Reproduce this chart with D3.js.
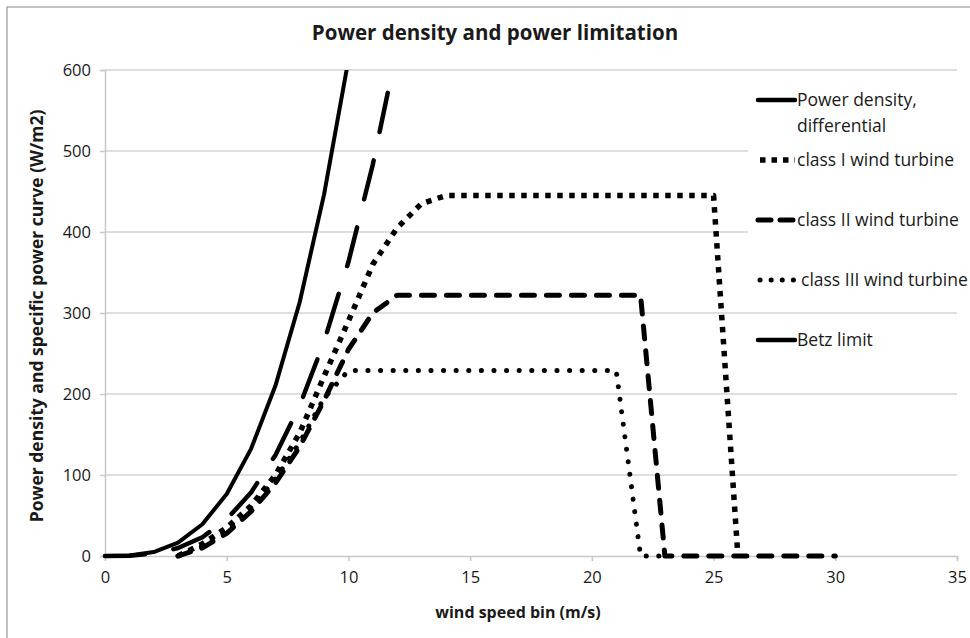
<!DOCTYPE html>
<html><head><meta charset="utf-8">
<script src="https://cdn.jsdelivr.net/npm/d3@7/dist/d3.min.js"></script>
<style>
html,body{margin:0;padding:0;background:#fff;}
text{font-family:"Open Sans","Noto Sans",sans-serif;fill:#1a1a1a;}
</style></head>
<body><svg id="c" width="970" height="638"></svg>
<script>
const windSpeed = [0,1,2,3,4,5,6,7,8,9,10,11,12,13,14,15,16,17,18,19,20,21,22,23,24,25,26,27,28,29,30];
const powerDensity = [0,0.6,4.9,16.5,39.2,76.6,132.3,210.1,313.6,446.5,612.5];
const betzLimit = [0,0.4,2.9,9.8,23.2,45.4,78.4,124.5,185.8,264.6,363.0,483.1,627.2];
const class1X = [3,4,5,6,7,8,9,10,11,12,13,14,15,16,17,18,19,20,21,22,23,24,25,26];
const class1 = [0,15,35,62,100,152,222,290,360,405,435,445,445,445,445,445,445,445,445,445,445,445,445,0];
const class2X = [3,4,5,6,7,8,9,10,11,12,13,14,15,16,17,18,19,20,21,22,23,24,25,26,27,28,29,30];
const class2 = [0,10,28,55,90,135,192,255,300,322,322,322,322,322,322,322,322,322,322,322,0,0,0,0,0,0,0,0];
const class3X = [3,4,5,6,7,8,9,10,11,12,13,14,15,16,17,18,19,20,21,22,23];
const class3 = [0,12,30,60,95,140,195,229,229,229,229,229,229,229,229,229,229,229,229,0,0];
const xTicks = [0,5,10,15,20,25,30,35];
const yTicks = [0,100,200,300,400,500,600];
const legendLabels = [["Power density,","differential"],["class I wind turbine"],["class II wind turbine"],["class III wind turbine"],["Betz limit"]];

const svg = d3.select("#c");
const m={l:105,r:957,t:70,b:556};
const x=d3.scaleLinear().domain([0,35]).range([m.l,m.r]);
const y=d3.scaleLinear().domain([0,600]).range([m.b,m.t]);

// chart frame
svg.append("rect").attr("x",7).attr("y",7).attr("width",975).attr("height",640)
  .attr("fill","#fff").attr("stroke","#9a9a9a").attr("stroke-width",1.2);

// gridlines
svg.append("g").selectAll("line").data(yTicks.filter(d=>d>0)).join("line")
  .attr("x1",m.l).attr("x2",m.r).attr("y1",d=>y(d)).attr("y2",d=>y(d))
  .attr("stroke","#d3d3d3").attr("stroke-width",1.5);

// axes
const yAxis=d3.axisLeft(y).tickValues(yTicks).tickSize(5).tickPadding(9);
const gy=svg.append("g").attr("transform",`translate(${m.l},0)`).call(yAxis);
gy.select(".domain").attr("stroke","#c8c8c8").attr("stroke-width",1.5);
gy.selectAll(".tick line").attr("stroke","#c8c8c8").attr("stroke-width",1.5);
gy.selectAll("text").attr("font-size",16.5).attr("font-family","Open Sans").attr("fill","#333");

const xAxis=d3.axisBottom(x).tickValues(xTicks).tickSize(5).tickPadding(10);
const gx=svg.append("g").attr("transform",`translate(0,${m.b})`).call(xAxis);
gx.select(".domain").attr("stroke","#c8c8c8").attr("stroke-width",1.5);
gx.selectAll(".tick line").attr("stroke","#c8c8c8").attr("stroke-width",1.5);
gx.selectAll("text").attr("font-size",16.5).attr("font-family","Open Sans").attr("fill","#333");

// clip
svg.append("clipPath").attr("id","pc").append("rect")
  .attr("x",m.l-5).attr("y",m.t).attr("width",m.r-m.l+10).attr("height",m.b-m.t+10);

const line=d3.line().x(d=>x(d[0])).y(d=>y(d[1]));
const zip=(xs,ys)=>ys.map((v,i)=>[xs[i],v]);
const series=[
  {d:zip(windSpeed,powerDensity),w:4,dash:null,cap:"round"},
  {d:zip(windSpeed,betzLimit),w:4.5,dash:"40,29",cap:"round"},
  {d:zip(class3X,class3),w:5,dash:"0.1,12.5",cap:"round"},
  {d:zip(class2X,class2),w:5,dash:"13,12",cap:"round"},
  {d:zip(class1X,class1),w:5.5,dash:"5.5,6.5",cap:"butt"}
];
const gl=svg.append("g").attr("clip-path","url(#pc)");
series.forEach(s=>{
  gl.append("path").attr("d",line(s.d)).attr("fill","none").attr("stroke","#000")
    .attr("stroke-width",s.w).attr("stroke-linecap",s.cap).attr("stroke-linejoin","round")
    .attr("stroke-dasharray",s.dash);
});

// legend background
svg.append("rect").attr("x",748).attr("y",78).attr("width",212).attr("height",226).attr("fill","#fff");
const lg=svg.append("g");
const legY=[100,160,220,280,340];
const legStyles=[
  {w:4.5,dash:null,cap:"round"},
  {w:5.5,dash:"5.5,6",cap:"butt"},
  {w:5,dash:"13,9",cap:"round"},
  {w:5,dash:"0.1,11",cap:"round"},
  {w:4.5,dash:null,cap:"round"}
];
legendLabels.forEach((lab,i)=>{
  const st=legStyles[i];
  lg.append("line").attr("x1",i===1||i===3?760:758).attr("x2",795).attr("y1",legY[i]).attr("y2",legY[i])
    .attr("stroke","#000").attr("stroke-width",st.w).attr("stroke-linecap",st.cap)
    .attr("stroke-dasharray",st.dash);
  lab.forEach((t,j)=>{
    lg.append("text").attr("x",i===3?801:797).attr("y",legY[i]+6+j*26).attr("font-size",17.5)
      .attr("font-family","Open Sans").attr("fill","#333").text(t);
  });
});

// titles
svg.append("text").attr("x",495).attr("y",40).attr("text-anchor","middle")
  .attr("font-size",20.5).attr("font-weight","bold").attr("font-family","Open Sans").text("Power density and power limitation");
svg.append("text").attr("x",518).attr("y",618).attr("text-anchor","middle")
  .attr("font-size",16).attr("font-weight","bold").attr("font-family","Open Sans").text("wind speed bin (m/s)");
svg.append("text").attr("transform","translate(43,316) rotate(-90)").attr("text-anchor","middle")
  .attr("font-size",17.5).attr("font-weight","bold").attr("font-family","Open Sans").text("Power density and specific power curve (W/m2)");
</script></body></html>
